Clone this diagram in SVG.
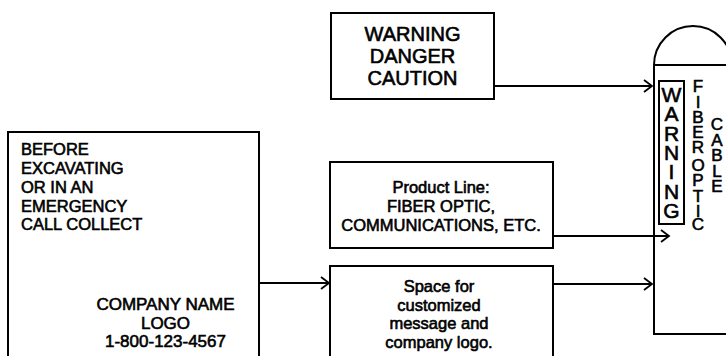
<svg xmlns="http://www.w3.org/2000/svg" width="726" height="356" viewBox="0 0 726 356">
<defs>
<marker id="arr" markerWidth="12" markerHeight="14" refX="10" refY="7" orient="auto" markerUnits="userSpaceOnUse">
<path d="M2,1 L10,7 L2,13" fill="none" stroke="#000" stroke-width="1.8"/>
</marker>
<style>
.box{fill:#fff;stroke:#000;stroke-width:2}
.ln{fill:none;stroke:#000;stroke-width:2}
.t{font-family:"Liberation Sans",Arial,Helvetica,sans-serif;fill:#000;stroke:#000;stroke-width:0.6}
.c{text-anchor:middle}
.con{fill:none;stroke:#000;stroke-width:1.8;marker-end:url(#arr)}
</style>
</defs>
<rect width="726" height="356" fill="#fff"/>

<g id="cable">
<path class="ln" d="M654,65 A39,39 0 0 1 732,65"/>
<path class="ln" d="M732,65 L654,65 L654,334 L732,334"/>
<rect class="box" x="659" y="81" width="25" height="143"/>
<g class="t c" font-size="21">
<text x="671.5" y="102">W</text>
<text x="671.5" y="121.3">A</text>
<text x="671.5" y="140.7">R</text>
<text x="671.5" y="160">N</text>
<text x="671.5" y="179.3">I</text>
<text x="671.5" y="198.7">N</text>
<text x="671.5" y="218">G</text>
</g>
<g class="t c" font-size="17">
<text x="698" y="92">F</text>
<text x="698" y="108">I</text>
<text x="698" y="123">B</text>
<text x="698" y="138">E</text>
<text x="698" y="152.5">R</text>
<text x="698" y="171">O</text>
<text x="698" y="185.5">P</text>
<text x="698" y="201.5">T</text>
<text x="698" y="216.5">I</text>
<text x="698" y="230">C</text>
</g>
<g class="t c" font-size="17">
<text x="717" y="130">C</text>
<text x="717" y="145.5">A</text>
<text x="717" y="161">B</text>
<text x="717" y="176.5">L</text>
<text x="717" y="192">E</text>
</g>
</g>

<g id="warning-box">
<rect class="box" x="331" y="13" width="163" height="86"/>
<g class="t c" font-size="20">
<text x="412.5" y="41">WARNING</text>
<text x="412.5" y="63">DANGER</text>
<text x="412.5" y="85">CAUTION</text>
</g>
</g>

<g id="emergency-box">
<rect class="box" x="8" y="132" width="251" height="240"/>
<g class="t" font-size="16.5">
<text x="21" y="155">BEFORE</text>
<text x="21" y="174">EXCAVATING</text>
<text x="21" y="192.5">OR IN AN</text>
<text x="21" y="211.5">EMERGENCY</text>
<text x="21" y="230">CALL COLLECT</text>
</g>
<g class="t c" font-size="17">
<text x="165.5" y="310">COMPANY NAME</text>
<text x="165.5" y="328.5">LOGO</text>
<text x="165.5" y="347">1-800-123-4567</text>
</g>
</g>

<g id="product-box">
<rect class="box" x="330" y="162" width="223" height="86"/>
<g class="t c" font-size="16.5">
<text x="441" y="193">Product Line:</text>
<text x="441" y="212">FIBER OPTIC,</text>
<text x="441" y="231">COMMUNICATIONS, ETC.</text>
</g>
</g>

<g id="space-box">
<rect class="box" x="330" y="266" width="223" height="110"/>
<g class="t c" font-size="16.5">
<text x="439" y="292">Space for</text>
<text x="439" y="310.5">customized</text>
<text x="439" y="329">message and</text>
<text x="439" y="347.5">company logo.</text>
</g>
</g>

<g id="connectors">
<path class="con" d="M494,86 L652,86"/>
<path class="con" d="M553,236 L669,236"/>
<path class="con" d="M553,284 L652,284"/>
<path class="con" d="M259,283 L329,283"/>
</g>
</svg>
